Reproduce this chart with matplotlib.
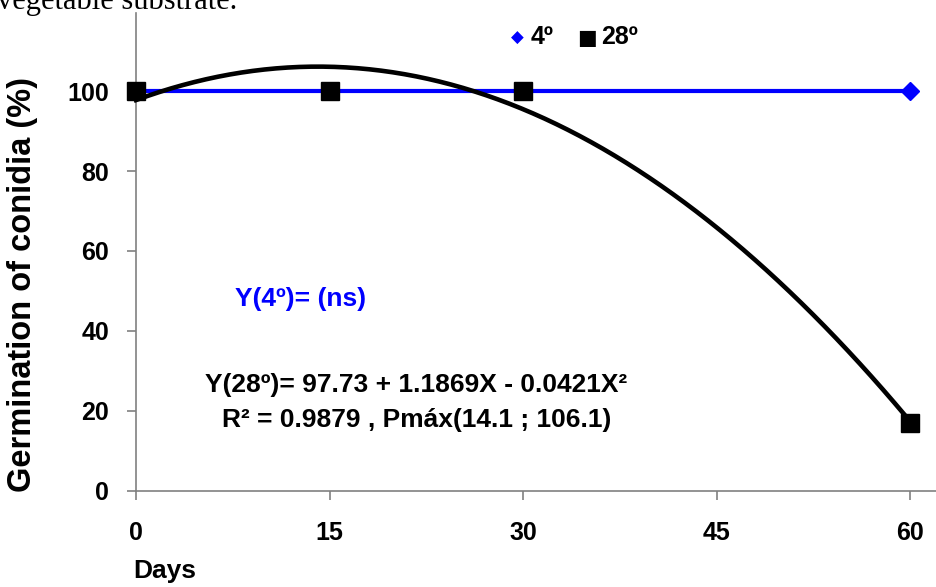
import numpy as np
import matplotlib
matplotlib.use("Agg")
import matplotlib.pyplot as plt

plt.rcParams['font.family'] = ['Liberation Sans', 'DejaVu Sans']

# data
days = [0, 15, 30, 60]
germ_4 = [100, 100, 100, 100]
germ_28 = [100, 100, 100, 17]
# trend line printed on the chart: Y = 97.73 + 1.1869X - 0.0421X^2
coef_28 = [-0.0421, 1.1869, 97.73]
x_ticks = [0, 15, 30, 45, 60]
y_ticks = [0, 20, 40, 60, 80, 100]

fig = plt.figure(figsize=(9.36, 5.87), dpi=100)
ax = fig.add_axes([136 / 936, 1 - 491 / 587, 800 / 936, 478 / 587])

xs = np.linspace(0, 60, 200)
ax.plot(days, germ_4, color='#0000ff', lw=3.0, marker='D', ms=9, zorder=3, clip_on=False)
ax.plot(xs, np.polyval(coef_28, xs), color='black', lw=3.3, zorder=4, clip_on=False)
ax.plot(days, germ_28, ls='none', color='black', marker='s', ms=12.5, zorder=5, clip_on=False)

ax.set_xlim(0, 62)
ax.set_ylim(0, 119.5)
ax.set_xticks(x_ticks)
ax.set_yticks(y_ticks)
ax.set_xticklabels([str(t) for t in x_ticks], fontsize=18, fontweight='bold')
ax.set_yticklabels([str(t) for t in y_ticks], fontsize=18, fontweight='bold')
ax.tick_params(direction='out', length=6.5, width=1.2, color='#808080')
ax.tick_params(axis='x', pad=15)
ax.tick_params(axis='y', pad=13)
for s in ['top', 'right']:
    ax.spines[s].set_visible(False)
for s in ['left', 'bottom']:
    ax.spines[s].set_color('#808080')
    ax.spines[s].set_linewidth(1.2)

ax.set_ylabel('Germination of conidia (%)', fontsize=23.5, fontweight='bold', va='center')
ax.yaxis.set_label_coords((23 - 136) / 800, 0.433)
fig.text(133 / 936, 1 - 571 / 587, 'Days', fontsize=19, fontweight='bold', va='center', ha='left')

# legend
fig.text(517 / 936, 1 - 38 / 587, '\u25c6', color='#0000ff', fontsize=12, va='center', ha='center',
         family=['DejaVu Sans'])
fig.text(531 / 936, 1 - 37 / 587, '4º', fontsize=18, fontweight='bold', va='center', ha='left')
fig.text(587 / 936, 1 - 38 / 587, '\u25a0', color='black', fontsize=15, va='center', ha='center',
         family=['DejaVu Sans'])
fig.text(601 / 936, 1 - 37 / 587, '28º', fontsize=18, fontweight='bold', va='center', ha='left')

fig.text(235 / 936, 1 - 299 / 587, 'Y(4º)= (ns)', color='#0000ff', fontsize=19, fontweight='bold',
         va='center', ha='left')
fig.text(416 / 936, 1 - 385 / 587, 'Y(28º)= 97.73 + 1.1869X - 0.0421X²', fontsize=19,
         fontweight='bold', va='center', ha='center')
fig.text(417 / 936, 1 - 420 / 587, 'R² = 0.9879 , Pmáx(14.1 ; 106.1)', fontsize=19,
         fontweight='bold', va='center', ha='center')

# caption cut off at the top
fig.text(-3 / 936, 1 - 9 / 587, 'vegetable substrate.', fontsize=22, family=['Liberation Serif'],
         va='baseline', ha='left')

fig.savefig('out.png', dpi=100)
